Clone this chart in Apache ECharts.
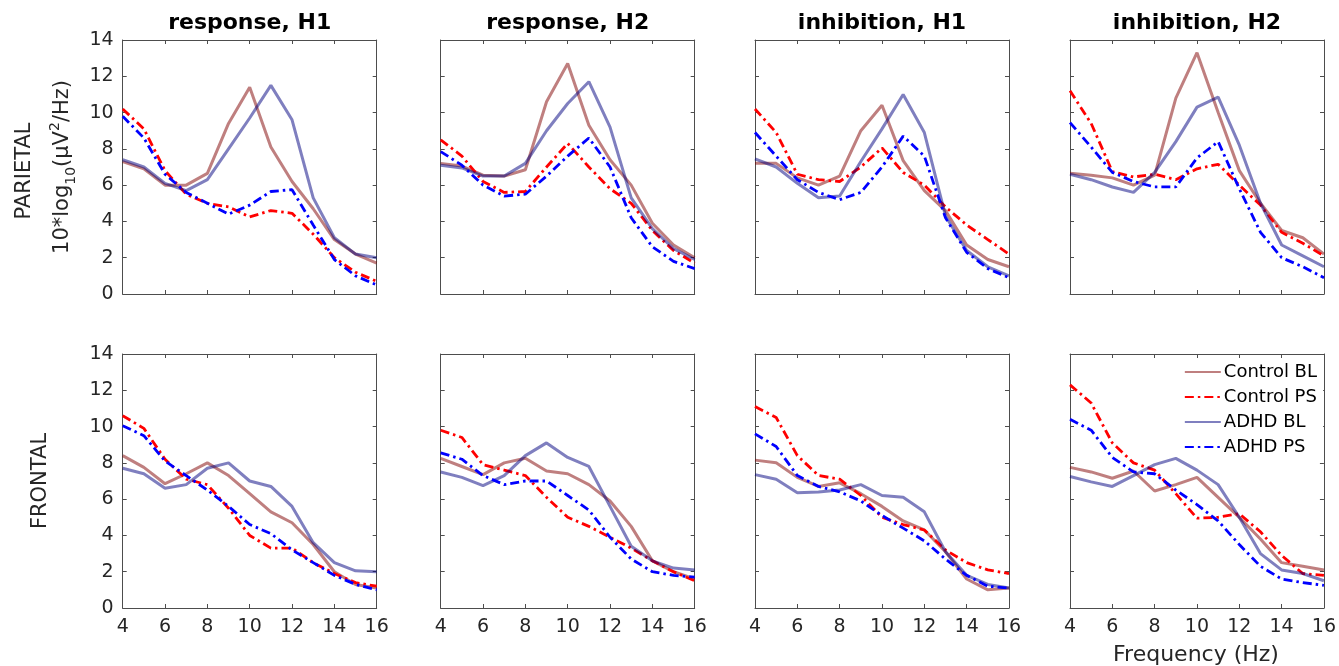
<!DOCTYPE html>
<html>
<head>
<meta charset="utf-8">
<script src="https://cdn.jsdelivr.net/npm/echarts@6/dist/echarts.min.js"></script>
<style>
  html, body { margin: 0; padding: 0; background: #fff; }
  #chart { width: 1339px; height: 666px; }
</style>
</head>
<body>
<div id="chart"></div>
<script>
const freqs = [4, 5, 6, 7, 8, 9, 10, 11, 12, 13, 14, 15, 16];
const seriesNames = ['Control BL', 'Control PS', 'ADHD BL', 'ADHD PS'];
const columnTitles = ['response, H1', 'response, H2', 'inhibition, H1', 'inhibition, H2'];

// parietal row: [Control BL, Control PS, ADHD BL, ADHD PS]
const parietalResponseH1 = [
    [7.3, 6.9, 6.0, 6.0, 6.65, 9.4, 11.4, 8.1, 6.2, 4.7, 3.0, 2.2, 1.7],
    [10.2, 9.1, 6.8, 5.5, 5.0, 4.8, 4.25, 4.6, 4.45, 3.3, 2.0, 1.2, 0.7],
    [7.4, 7.0, 6.1, 5.7, 6.3, 8.0, 9.7, 11.5, 9.6, 5.3, 3.1, 2.2, 2.0],
    [9.8, 8.6, 6.6, 5.6, 5.0, 4.4, 4.9, 5.65, 5.75, 3.8, 1.9, 1.0, 0.5]
];
const parietalResponseH2 = [
    [7.2, 7.05, 6.55, 6.5, 6.85, 10.6, 12.7, 9.3, 7.4, 6.0, 3.9, 2.7, 2.0],
    [8.5, 7.6, 6.2, 5.6, 5.65, 7.0, 8.3, 7.0, 5.8, 5.0, 3.5, 2.4, 1.7],
    [7.1, 6.95, 6.5, 6.5, 7.2, 9.0, 10.5, 11.7, 9.2, 5.3, 3.6, 2.5, 1.9],
    [7.85, 7.1, 6.0, 5.4, 5.5, 6.5, 7.6, 8.6, 7.0, 4.2, 2.6, 1.8, 1.4]
];
const parietalInhibitionH1 = [
    [7.2, 7.2, 6.4, 6.0, 6.5, 9.0, 10.4, 7.35, 5.7, 4.6, 2.7, 1.9, 1.5],
    [10.2, 8.9, 6.6, 6.3, 6.2, 7.0, 8.05, 6.7, 6.0, 4.8, 3.8, 3.0, 2.2],
    [7.45, 7.0, 6.1, 5.3, 5.4, 7.3, 9.1, 11.0, 8.9, 4.3, 2.4, 1.5, 1.0],
    [8.9, 7.6, 6.3, 5.6, 5.2, 5.6, 7.0, 8.7, 7.6, 4.2, 2.3, 1.4, 0.9]
];
const parietalInhibitionH2 = [
    [6.65, 6.55, 6.4, 6.0, 6.55, 10.8, 13.3, 10.0, 6.8, 5.0, 3.5, 3.1, 2.2],
    [11.2, 9.4, 6.75, 6.45, 6.6, 6.3, 6.9, 7.15, 6.0, 4.9, 3.4, 2.8, 2.1],
    [6.6, 6.3, 5.9, 5.6, 6.7, 8.4, 10.3, 10.85, 8.2, 5.0, 2.7, 2.1, 1.5],
    [9.45, 8.1, 6.7, 6.2, 5.9, 5.9, 7.5, 8.4, 5.8, 3.4, 2.0, 1.5, 0.9]
];
// frontal row
const frontalResponseH1 = [
    [8.4, 7.75, 6.85, 7.4, 8.0, 7.3, 6.3, 5.3, 4.7, 3.5, 2.0, 1.3, 1.1],
    [10.6, 9.9, 8.2, 7.1, 6.8, 5.5, 4.0, 3.3, 3.3, 2.5, 1.9, 1.4, 1.2],
    [7.7, 7.4, 6.6, 6.8, 7.7, 8.0, 7.0, 6.7, 5.6, 3.6, 2.5, 2.05, 2.0],
    [10.05, 9.5, 8.1, 7.3, 6.5, 5.6, 4.6, 4.1, 3.2, 2.5, 1.8, 1.3, 1.0]
];
const frontalResponseH2 = [
    [8.25, 7.8, 7.35, 8.0, 8.25, 7.55, 7.4, 6.8, 5.9, 4.5, 2.6, 2.0, 1.6],
    [9.8, 9.4, 7.9, 7.6, 7.3, 6.1, 5.0, 4.5, 3.9, 3.3, 2.6, 2.0, 1.5],
    [7.5, 7.2, 6.75, 7.3, 8.4, 9.1, 8.3, 7.8, 5.6, 3.4, 2.6, 2.2, 2.1],
    [8.55, 8.2, 7.3, 6.8, 7.0, 7.0, 6.2, 5.4, 3.9, 2.7, 2.0, 1.8, 1.7]
];
const frontalInhibitionH1 = [
    [8.15, 8.0, 7.2, 6.7, 6.9, 6.3, 5.6, 4.8, 4.3, 3.1, 1.6, 1.0, 1.1],
    [11.1, 10.5, 8.4, 7.3, 7.1, 6.2, 5.0, 4.6, 4.3, 3.2, 2.5, 2.1, 1.9],
    [7.35, 7.1, 6.35, 6.4, 6.5, 6.8, 6.2, 6.1, 5.3, 3.1, 1.8, 1.3, 1.1],
    [9.6, 8.9, 7.3, 6.7, 6.4, 5.9, 5.1, 4.4, 3.7, 2.7, 1.8, 1.2, 1.1]
];
const frontalInhibitionH2 = [
    [7.75, 7.5, 7.15, 7.55, 6.45, 6.8, 7.2, 6.1, 5.0, 3.8, 2.5, 2.3, 2.1],
    [12.3, 11.3, 9.1, 8.0, 7.6, 6.3, 4.95, 5.0, 5.2, 4.2, 2.9, 1.9, 1.8],
    [7.25, 6.95, 6.7, 7.3, 7.9, 8.25, 7.6, 6.8, 5.0, 3.0, 2.1, 1.9, 1.5],
    [10.4, 9.8, 8.3, 7.5, 7.4, 6.5, 5.7, 4.8, 3.5, 2.3, 1.6, 1.4, 1.25]
];

const panels = [
    [parietalResponseH1, parietalResponseH2, parietalInhibitionH1, parietalInhibitionH2],
    [frontalResponseH1, frontalResponseH2, frontalInhibitionH1, frontalInhibitionH2]
];

const dashDot = [9, 4, 2.5, 4];
const lineStyles = [
    { color: '#800000', opacity: 0.5, width: 3, type: 'solid' },
    { color: '#ff0000', opacity: 1, width: 2.8, type: dashDot },
    { color: '#000080', opacity: 0.5, width: 3, type: 'solid' },
    { color: '#0000ff', opacity: 1, width: 2.8, type: dashDot }
];

const gridLefts = [122.7, 440.7, 755, 1070];
const gridTops = [40, 354];
const gridW = 254;
const gridH = 254;
const font = 'DejaVu Sans';
const textColor = '#262626';
const frameColor = '#4d4d4d';

const grids = [];
const xAxes = [];
const yAxes = [];
const series = [];
const graphics = [];

for (let r = 0; r < 2; r++) {
    for (let c = 0; c < 4; c++) {
        const g = grids.length;
        grids.push({ left: gridLefts[c], top: gridTops[r], width: gridW, height: gridH });
        const axisBase = {
            gridIndex: g,
            type: 'value',
            axisLine: { show: true, onZero: false, lineStyle: { color: frameColor, width: 1 } },
            axisTick: { show: true, inside: true, length: 4, lineStyle: { color: frameColor } },
            splitLine: { show: false }
        };
        xAxes.push(Object.assign({}, axisBase, {
            position: 'bottom', min: 4, max: 16, interval: 2,
            axisLabel: { show: r === 1, color: textColor, fontFamily: font, fontSize: 19, margin: 10 }
        }));
        xAxes.push(Object.assign({}, axisBase, {
            position: 'top', min: 4, max: 16, interval: 2, axisLabel: { show: false }
        }));
        yAxes.push(Object.assign({}, axisBase, {
            position: 'left', min: 0, max: 14, interval: 2,
            axisLabel: { show: c === 0, color: textColor, fontFamily: font, fontSize: 19, margin: 9 }
        }));
        yAxes.push(Object.assign({}, axisBase, {
            position: 'right', min: 0, max: 14, interval: 2, axisLabel: { show: false }
        }));

        const values = panels[r][c];
        for (let s = 0; s < 4; s++) {
            const ls = lineStyles[s];
            series.push({
                name: seriesNames[s],
                type: 'line',
                xAxisIndex: 2 * g,
                yAxisIndex: 2 * g,
                data: freqs.map((f, i) => [f, values[s][i]]),
                symbol: 'none',
                silent: true,
                color: ls.color,
                lineStyle: { color: ls.color, opacity: ls.opacity, width: ls.width, type: ls.type },
                z: 2 + s
            });
        }
    }
}

columnTitles.forEach((t, c) => {
    graphics.push({
        type: 'text', x: gridLefts[c] + gridW / 2, y: 23,
        style: { text: t, fontFamily: font, fontSize: 22, fontWeight: 'bold', fill: '#000',
                 align: 'center', verticalAlign: 'middle' }
    });
});

graphics.push({
    type: 'text', x: 25, y: 171, rotation: Math.PI / 2,
    style: { text: 'PARIETAL', fontFamily: font, fontSize: 21, fill: textColor, align: 'center', verticalAlign: 'middle' }
});
graphics.push({
    type: 'text', x: 63, y: 167, rotation: Math.PI / 2,
    style: {
        text: '{a|10*log}{s|10}{a|(μV}{p|2}{a|/Hz)}',
        align: 'center', verticalAlign: 'middle',
        rich: {
            a: { fontFamily: font, fontSize: 21, fill: textColor, lineHeight: 30, verticalAlign: 'middle' },
            s: { fontFamily: font, fontSize: 14, fill: textColor, lineHeight: 14, verticalAlign: 'bottom' },
            p: { fontFamily: font, fontSize: 14, fill: textColor, lineHeight: 14, verticalAlign: 'top' }
        }
    }
});
graphics.push({
    type: 'text', x: 41, y: 481, rotation: Math.PI / 2,
    style: { text: 'FRONTAL', fontFamily: font, fontSize: 21, fill: textColor, align: 'center', verticalAlign: 'middle' }
});
graphics.push({
    type: 'text', x: 1196, y: 655,
    style: { text: 'Frequency (Hz)', fontFamily: font, fontSize: 22, fill: textColor, align: 'center', verticalAlign: 'middle' }
});

const chart = echarts.init(document.getElementById('chart'));
chart.setOption({
    animation: false,
    backgroundColor: '#fff',
    grid: grids,
    xAxis: xAxes,
    yAxis: yAxes,
    series: series,
    legend: {
        data: seriesNames,
        orient: 'vertical',
        right: 16,
        top: 359,
        itemWidth: 36,
        itemHeight: 12,
        itemGap: 7,
        padding: [4, 6, 4, 4],
        backgroundColor: '#fff',
        itemStyle: { opacity: 0 },
        textStyle: { fontFamily: font, fontSize: 18, color: '#000', padding: [0, 0, 0, -2] },
        selectedMode: false
    },
    graphic: graphics
});
</script>
</body>
</html>
